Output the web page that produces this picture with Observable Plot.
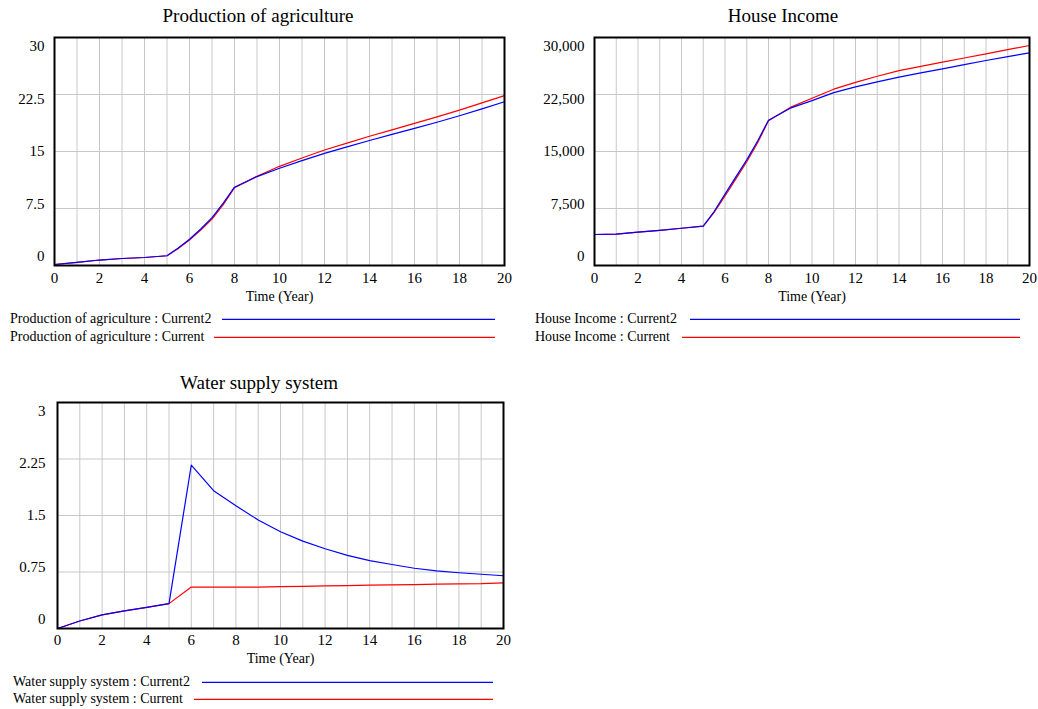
<!DOCTYPE html>
<html>
<head>
<meta charset="utf-8">
<script src="https://cdn.jsdelivr.net/npm/d3@7"></script>
<script src="https://cdn.jsdelivr.net/npm/@observablehq/plot@0.6"></script>
<style>
  html, body { margin: 0; padding: 0; background: #fff; }
  #root { position: relative; width: 1038px; height: 709px; overflow: hidden; font-family: "Liberation Serif", "Times New Roman", serif; color: #000; }
  .title { position: absolute; width: 400px; text-align: center; font-size: 19px; line-height: 24px; white-space: nowrap; }
  .leg { position: absolute; font-size: 14px; line-height: 16px; white-space: nowrap; }
  .legsvg { position: absolute; overflow: visible; }
  .plot { position: absolute; }
</style>
</head>
<body>
<div id="root"></div>
<script>
// ---------- data ----------
const years = [0,1,2,3,4,5,5.5,6,6.5,7,7.5,8,9,10,11,12,13,14,15,16,17,18,19,20];
const agriCurrent2 = [0.13,0.4,0.72,0.92,1.05,1.28,2.3,3.45,4.8,6.3,8.2,10.3,11.7,12.8,13.8,14.75,15.6,16.45,17.25,18.05,18.85,19.7,20.6,21.55];
const agriCurrent  = [0.13,0.4,0.72,0.92,1.05,1.28,2.25,3.35,4.65,6.1,8.0,10.25,11.75,13.05,14.15,15.2,16.1,17.0,17.85,18.7,19.55,20.45,21.4,22.35];
const incomeCurrent2 = [4080,4120,4380,4620,4900,5190,7100,9400,11670,13900,16390,19100,20700,21700,22750,23500,24150,24780,25350,25880,26420,26970,27480,27980];
const incomeCurrent  = [4080,4120,4380,4620,4900,5190,7000,9150,11400,13650,16150,19050,20800,22000,23200,24100,24900,25650,26200,26750,27300,27850,28400,28950];
const waterYears = [0,1,2,3,4,5,6,7,8,9,10,11,12,13,14,15,16,17,18,19,20];
const waterCurrent2 = [0,0.1,0.18,0.235,0.28,0.33,2.17,1.83,1.63,1.44,1.285,1.16,1.058,0.97,0.9,0.85,0.8,0.765,0.74,0.72,0.70];
const waterCurrent  = [0,0.1,0.18,0.235,0.28,0.33,0.55,0.55,0.55,0.55,0.555,0.56,0.566,0.568,0.575,0.578,0.582,0.588,0.593,0.595,0.606];

const xTickLabels = [0,2,4,6,8,10,12,14,16,18,20];
const xGrid = d3.range(0, 21);
const agriTicks = [0,7.5,15,22.5,30];
const incomeTicks = [0,7500,15000,22500,30000];
const waterTicks = [0,0.75,1.5,2.25,3];
const xLabel = "Time (Year)";

const BLUE = "#0000ff", RED = "#ff0000";

const root = document.getElementById("root");

function table(xs, ys) { return xs.map((t, i) => ({t, v: ys[i]})); }

function chart(cfg) {
  const ticksDesc = cfg.yticks.slice().sort((a, b) => b - a);
  const n = ticksDesc.length - 1;
  const yAxes = ticksDesc.map((v, k) => Plot.axisY({
    ticks: [v], tickSize: 0, tickPadding: cfg.yPad, dy: 9 - 18 * k / n,
    tickFormat: cfg.fmt, fontSize: 15, label: null
  }));
  const svg = Plot.plot({
    width: cfg.width, height: cfg.height,
    marginLeft: cfg.ml, marginRight: cfg.mr, marginTop: cfg.mt, marginBottom: cfg.mb,
    x: {domain: [0, 20], label: null},
    y: {domain: [0, cfg.ymax], label: null},
    style: {fontFamily: "Liberation Serif", fontSize: "15px", background: "transparent", color: "#000"},
    marks: [
      Plot.gridX({ticks: xGrid, stroke: "#c8c8c8", strokeOpacity: 1}),
      Plot.gridY({ticks: cfg.yticks, stroke: "#c8c8c8", strokeOpacity: 1}),
      Plot.line(table(cfg.xs, cfg.red), {x: "t", y: "v", stroke: RED, strokeWidth: 1.2}),
      Plot.line(table(cfg.xs, cfg.blue), {x: "t", y: "v", stroke: BLUE, strokeWidth: 1.2}),
      Plot.frame({stroke: "#000", strokeWidth: 2}),
      Plot.axisX({ticks: xTickLabels, tickSize: 0, tickPadding: cfg.xPad, fontSize: 15, label: null}),
      ...yAxes,
      Plot.text([xLabel], {text: d => d, frameAnchor: "bottom", dy: cfg.labelDy, lineAnchor: "middle", fontSize: 14})
    ]
  });
  svg.classList.add("plot");
  svg.style.left = cfg.left + "px";
  svg.style.top = cfg.top + "px";
  root.appendChild(svg);

  const t = document.createElement("div");
  t.className = "title";
  t.textContent = cfg.title;
  t.style.left = (cfg.titleX - 200) + "px";
  t.style.top = (cfg.titleY - 12) + "px";
  root.appendChild(t);

  cfg.legend.forEach(l => {
    const d = document.createElement("div");
    d.className = "leg";
    d.textContent = l.text;
    d.style.left = l.x + "px";
    d.style.top = (l.y - 8) + "px";
    root.appendChild(d);
    const ns = "http://www.w3.org/2000/svg";
    const s = document.createElementNS(ns, "svg");
    s.setAttribute("class", "legsvg");
    s.setAttribute("width", l.x2 - l.x1);
    s.setAttribute("height", 4);
    s.style.left = l.x1 + "px";
    s.style.top = (l.y - 2) + "px";
    const ln = document.createElementNS(ns, "line");
    ln.setAttribute("x1", 0); ln.setAttribute("x2", l.x2 - l.x1);
    ln.setAttribute("y1", 2.3); ln.setAttribute("y2", 2.3);
    ln.setAttribute("stroke", l.color);
    ln.setAttribute("stroke-width", 1.3);
    s.appendChild(ln);
    root.appendChild(s);
  });
}

chart({
  left: 0, top: 0, width: 520, height: 310, ml: 54, mr: 16, mt: 37, mb: 45,
  ymax: 30, yticks: agriTicks, fmt: d3.format(""), xs: years, blue: agriCurrent2, red: agriCurrent,
  yPad: 10, xPad: 7, labelDy: 31,
  title: "Production of agriculture", titleX: 258, titleY: 16,
  legend: [
    {text: "Production of agriculture : Current2", x: 10, y: 319, x1: 222, x2: 495, color: BLUE},
    {text: "Production of agriculture : Current", x: 10, y: 337, x1: 214, x2: 495, color: RED}
  ]
});

chart({
  left: 520, top: 0, width: 518, height: 310, ml: 74, mr: 9, mt: 37, mb: 45,
  ymax: 30000, yticks: incomeTicks, fmt: d3.format(","), xs: years, blue: incomeCurrent2, red: incomeCurrent,
  yPad: 10, xPad: 7, labelDy: 31,
  title: "House Income", titleX: 783, titleY: 16,
  legend: [
    {text: "House Income : Current2", x: 535, y: 319, x1: 690, x2: 1020, color: BLUE},
    {text: "House Income : Current", x: 535, y: 337, x1: 682, x2: 1020, color: RED}
  ]
});

chart({
  left: 0, top: 360, width: 520, height: 310, ml: 57, mr: 17, mt: 42, mb: 42,
  ymax: 3, yticks: waterTicks, fmt: d3.format(""), xs: waterYears, blue: waterCurrent2, red: waterCurrent,
  yPad: 12, xPad: 6, labelDy: 30,
  title: "Water supply system", titleX: 259, titleY: 383,
  legend: [
    {text: "Water supply system : Current2", x: 13, y: 682, x1: 202, x2: 493, color: BLUE},
    {text: "Water supply system : Current", x: 13, y: 699, x1: 194, x2: 493, color: RED}
  ]
});
</script>
</body>
</html>
